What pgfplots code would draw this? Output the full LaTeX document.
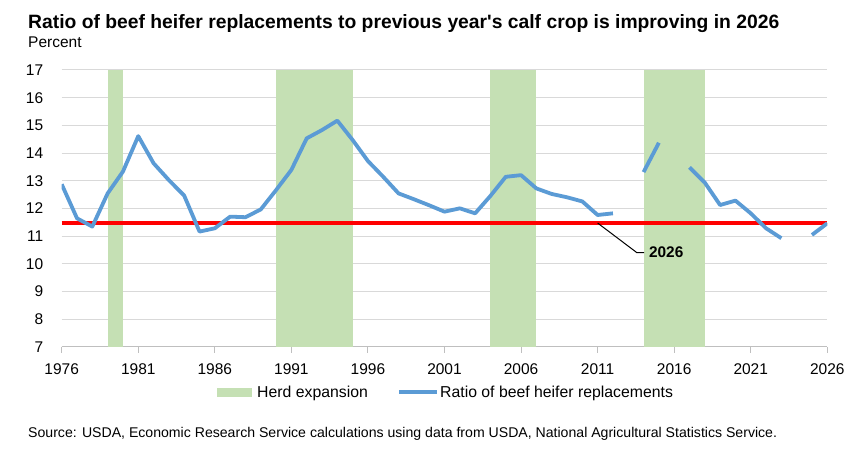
\documentclass[border=0pt]{standalone}
\usepackage{pgfplots}
\pgfplotsset{compat=1.18}
\usepackage{fontspec}
\setmainfont{Liberation Sans}
\definecolor{bandgreen}{HTML}{C5E0B4}
\definecolor{lineblue}{HTML}{5B9BD5}
\definecolor{gridgray}{HTML}{D9D9D9}
\definecolor{axisgray}{HTML}{BFBFBF}
\begin{document}
\begin{tikzpicture}[x=1pt,y=1pt]
\path[use as bounding box,fill=white] (0,0) rectangle (865,448);
\node[anchor=base west,inner sep=0pt,font=\fontsize{19.3}{22}\selectfont\bfseries] at (28,419) {Ratio of beef heifer replacements to previous year\textquotesingle s calf crop is improving in 2026};
\node[anchor=base west,inner sep=0pt,font=\fontsize{15.5}{18}\selectfont] at (28,400) {Percent};
\begin{axis}[
  at={(61.7pt,101.3pt)}, anchor=south west,
  scale only axis, width=765.6pt, height=276.7pt,
  xmin=1976, xmax=2026, ymin=7, ymax=17,
  xtick={1976,1981,...,2026}, ytick={7,8,...,17},
  x tick label style={/pgf/number format/1000 sep={}},
  /pgf/number format/assume math mode=true,
  tick label style={font=\fontsize{15.5}{18}\selectfont},
  ymajorgrids, grid style={gridgray,line width=1pt},
  axis x line*=bottom, axis y line*=left,
  y axis line style={draw=none},
  x axis line style={axisgray,line width=1pt,-},
  xtick style={axisgray,line width=1pt},
  major tick length=6pt,
  xtick pos=bottom, tick align=outside,
  ytick style={draw=none},
  yticklabel style={xshift=-9pt},
  xticklabel style={yshift=-7pt},
  clip=true,
]
% herd expansion bands
\addplot[draw=none,fill=bandgreen] coordinates {(1979,7) (1979,17) (1980,17) (1980,7)} -- cycle;
\addplot[draw=none,fill=bandgreen] coordinates {(1990,7) (1990,17) (1995,17) (1995,7)} -- cycle;
\addplot[draw=none,fill=bandgreen] coordinates {(2004,7) (2004,17) (2007,17) (2007,7)} -- cycle;
\addplot[draw=none,fill=bandgreen] coordinates {(2014,7) (2014,17) (2018,17) (2018,7)} -- cycle;
% red 2026 level
\addplot[red,line width=4.8pt] coordinates {(1976,11.47) (2026,11.47)};
% ratio series
\addplot[lineblue,line width=3.8pt,line join=round,unbounded coords=jump] coordinates {
(1976,12.87) (1977,11.64) (1978,11.34) (1979,12.54) (1980,13.33) (1981,14.61)
(1982,13.63) (1983,13.02) (1984,12.46) (1985,11.16) (1986,11.28) (1987,11.70)
(1988,11.68) (1989,11.96) (1990,12.66) (1991,13.39) (1992,14.53) (1993,14.83)
(1994,15.17) (1995,14.47) (1996,13.71) (1997,13.14) (1998,12.54) (1999,12.33)
(2000,12.11) (2001,11.88) (2002,12.00) (2003,11.82) (2004,12.45) (2005,13.14)
(2006,13.20) (2007,12.72) (2008,12.52) (2009,12.40) (2010,12.25) (2011,11.76)
(2012,11.82) (2013,nan) (2014,13.31) (2015,14.37) (2016,nan) (2017,13.48)
(2018,12.93) (2019,12.12) (2020,12.28) (2021,11.82) (2022,11.28) (2023,10.92)
(2024,nan) (2025,11.04) (2026,11.46)};
% annotation
\draw[black,line width=1pt] (axis cs:2011,11.47) -- (axis cs:2013.56,10.40) -- (axis cs:2014.03,10.40);
\node[anchor=west,inner sep=0pt,font=\fontsize{15.4}{18}\selectfont\bfseries] at (axis cs:2014.35,10.40) {2026};
\end{axis}
% legend
\fill[bandgreen] (217,51) rectangle (252,60);
\node[anchor=base west,inner sep=0pt,font=\fontsize{15.8}{18}\selectfont] at (257,50.5) {Herd expansion};
\draw[lineblue,line width=3.8pt] (399,56) -- (437,56);
\node[anchor=base west,inner sep=0pt,font=\fontsize{15.8}{18}\selectfont] at (440,50.5) {Ratio of beef heifer replacements};
% source
\node[anchor=base west,inner sep=0pt,font=\fontsize{14.1}{16}\selectfont] at (28,11) {Source: USDA, Economic Research Service calculations using data from USDA, National Agricultural Statistics Service.};
\end{tikzpicture}
\end{document}
